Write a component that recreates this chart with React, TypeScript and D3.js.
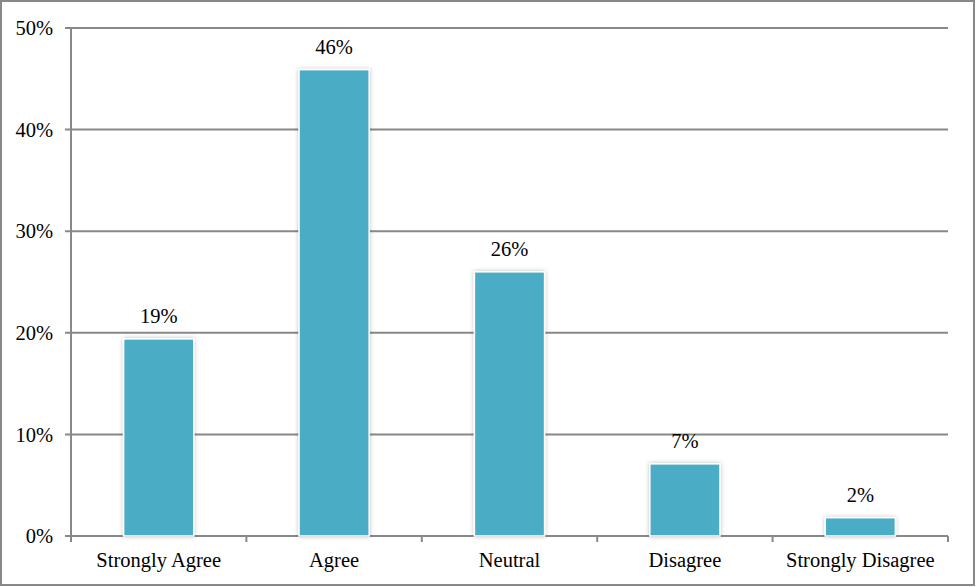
import React, { useEffect, useRef } from "react";
import * as d3 from "d3";

const categories = ["Strongly Agree", "Agree", "Neutral", "Disagree", "Strongly Disagree"];
const values = [19.4, 45.9, 26.0, 7.1, 1.8];
const labels = ["19%", "46%", "26%", "7%", "2%"];
const yTicks = [0, 10, 20, 30, 40, 50];

const W = 976;
const H = 587;
const margin = { left: 71, right: 28, top: 28, bottom: 51 };

export default function App() {
  const ref = useRef<SVGSVGElement>(null);
  useEffect(() => {
    document.body.style.margin = "0";
    const svg = d3.select(ref.current);
    svg.selectAll("*").remove();
    const font = "'Liberation Serif', 'Times New Roman', serif";
    const fs = 20.5;
    const x0 = margin.left, x1 = W - margin.right;
    const y0 = H - margin.bottom, y1 = margin.top;

    const x = d3.scaleBand<string>().domain(categories).range([x0, x1]).paddingInner(0.6).paddingOuter(0.3);
    const y = d3.scaleLinear().domain([0, 50]).range([y0, y1]);

    const defs = svg.append("defs");
    const f = defs.append("filter").attr("id", "sh").attr("x", "-20%").attr("y", "-20%").attr("width", "140%").attr("height", "140%");
    f.append("feDropShadow").attr("dx", 0).attr("dy", 0).attr("stdDeviation", 2).attr("flood-color", "#000").attr("flood-opacity", 0.25);

    svg.append("rect").attr("x", 1).attr("y", 1).attr("width", W - 3).attr("height", H - 3)
      .attr("fill", "#fff").attr("stroke", "#888").attr("stroke-width", 2);

    const g = svg.append("g");
    // gridlines
    g.selectAll("line.grid").data(yTicks).enter().append("line")
      .attr("x1", x0 - 6).attr("x2", x1).attr("y1", d => y(d)).attr("y2", d => y(d))
      .attr("stroke", "#888").attr("stroke-width", 2);
    // y tick labels
    g.selectAll("text.yt").data(yTicks).enter().append("text")
      .attr("x", 53).attr("y", d => y(d)).attr("dy", "0.35em").attr("text-anchor", "end")
      .attr("font-family", font).attr("font-size", fs).attr("fill", "#000")
      .text(d => d + "%");
    // y axis
    g.append("line").attr("x1", x0).attr("x2", x0).attr("y1", y1).attr("y2", y0 + 6)
      .attr("stroke", "#888").attr("stroke-width", 2);
    // x ticks at category boundaries
    const step = (x1 - x0) / categories.length;
    const bounds = d3.range(categories.length + 1).map(i => x0 + i * step);
    g.selectAll("line.xt").data(bounds).enter().append("line")
      .attr("x1", d => d).attr("x2", d => d).attr("y1", y0).attr("y2", y0 + 6)
      .attr("stroke", "#888").attr("stroke-width", 2);

    // bars
    g.selectAll("rect.bar").data(values).enter().append("rect")
      .attr("x", (_, i) => x(categories[i])!)
      .attr("y", d => y(d))
      .attr("width", x.bandwidth())
      .attr("height", d => y0 - y(d))
      .attr("fill", "#4BACC6").attr("stroke", "#fff").attr("stroke-width", 1.5)
      .attr("filter", "url(#sh)");

    // bar labels
    g.selectAll("text.bl").data(values).enter().append("text")
      .attr("x", (_, i) => x(categories[i])! + x.bandwidth() / 2)
      .attr("y", d => y(d) - 16)
      .attr("text-anchor", "middle")
      .attr("font-family", font).attr("font-size", fs).attr("fill", "#000")
      .text((_, i) => labels[i]);

    // category labels
    g.selectAll("text.cl").data(categories).enter().append("text")
      .attr("x", d => x(d)! + x.bandwidth() / 2)
      .attr("y", y0 + 31)
      .attr("text-anchor", "middle")
      .attr("font-family", font).attr("font-size", fs).attr("fill", "#000")
      .text(d => d);
  }, []);
  return <svg ref={ref} width={W} height={H} style={{ display: "block" }} />;
}
